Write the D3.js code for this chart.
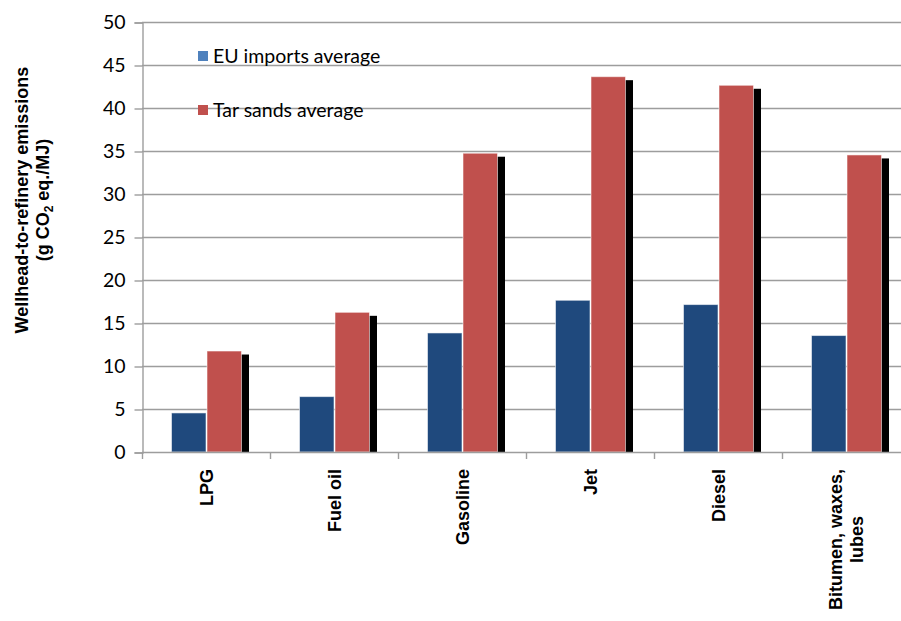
<!DOCTYPE html>
<html>
<head>
<meta charset="utf-8">
<script src="https://cdn.jsdelivr.net/npm/d3@7/dist/d3.min.js"></script>
<style>
  html, body { margin: 0; padding: 0; background: #ffffff; }
  svg { display: block; }
</style>
</head>
<body>
<svg id="chart" width="901" height="621"></svg>
<script>
// Wellhead-to-refinery emissions by refined product
const categories = ["LPG", "Fuel oil", "Gasoline", "Jet", "Diesel", "Bitumen, waxes,\nlubes"];
const euImports = [4.6, 6.5, 13.9, 17.7, 17.2, 13.6];
const tarSands = [11.8, 16.3, 34.8, 43.7, 42.7, 34.6];
const seriesNames = ["EU imports average", "Tar sands average"];
const yTicks = [0, 5, 10, 15, 20, 25, 30, 35, 40, 45, 50];

const barColors = ["#1F497D", "#C0504D"];
const legendColors = ["#4F81BD", "#C0504D"];
const gridColor = "#9d9d9d";
const labelFont = "Lato, 'Open Sans', sans-serif";
const boldFont = "'Liberation Sans', Arial, sans-serif";

const svg = d3.select("#chart");
const plotLeft = 142, plotTop = 22, plotBottom = 452;
const bandW = 128;

const x = d3.scaleBand()
  .domain(categories)
  .range([plotLeft, plotLeft + bandW * categories.length])
  .paddingInner(0).paddingOuter(0);

const y = d3.scaleLinear().domain([0, 50]).range([plotBottom, plotTop]);

const inner = d3.scaleBand()
  .domain([0, 1])
  .range([29, 29 + 71]);

// Drop-shadow blur
const defs = svg.append("defs");
defs.append("filter").attr("id", "soft")
  .attr("x", "-50%").attr("y", "-5%").attr("width", "200%").attr("height", "110%")
  .append("feGaussianBlur").attr("stdDeviation", 0.7);
defs.append("clipPath").attr("id", "plotClip")
  .append("rect").attr("x", plotLeft).attr("y", 0).attr("width", 901 - plotLeft).attr("height", plotBottom);

// Horizontal gridlines
svg.append("g").selectAll("line")
  .data(yTicks.filter(d => d > 0))
  .join("line")
  .attr("x1", plotLeft).attr("x2", 901)
  .attr("y1", d => Math.round(y(d)) + 0.5).attr("y2", d => Math.round(y(d)) + 0.5)
  .attr("stroke", gridColor).attr("stroke-width", 1.4);

// Y axis
const yAxis = d3.axisLeft(y).tickValues(yTicks).tickSize(8).tickPadding(9).tickFormat(d3.format("d"));
const yg = svg.append("g").attr("transform", `translate(${plotLeft + 0.5},0.5)`).call(yAxis);
yg.select(".domain").attr("stroke", gridColor).attr("stroke-width", 1.4);
yg.selectAll(".tick line").attr("stroke", gridColor).attr("stroke-width", 1.4);
yg.selectAll(".tick text").attr("font-family", labelFont).attr("font-size", 19.5).attr("fill", "#000");

// X axis: ticks at category boundaries
const boundaries = d3.range(categories.length + 1).map(i => plotLeft + i * x.bandwidth());
svg.append("g").selectAll("line")
  .data(boundaries)
  .join("line")
  .attr("x1", d => Math.round(d) + 0.5).attr("x2", d => Math.round(d) + 0.5)
  .attr("y1", plotBottom).attr("y2", plotBottom + 7)
  .attr("stroke", gridColor).attr("stroke-width", 1.4);

// Bars
const groups = svg.append("g").attr("clip-path", "url(#plotClip)")
  .selectAll("g.cat")
  .data(categories.map((c, i) => ({ c, vals: [euImports[i], tarSands[i]] })))
  .join("g").attr("class", "cat")
  .attr("transform", d => `translate(${x(d.c)},0)`);

// shadow behind the taller bar
groups.append("rect")
  .attr("x", inner(1) + 7)
  .attr("y", d => y(d.vals[1]) + 4)
  .attr("width", inner.bandwidth())
  .attr("height", d => plotBottom - y(d.vals[1]) - 4)
  .attr("fill", "#000")
  .attr("filter", "url(#soft)");

groups.selectAll("rect.bar")
  .data(d => d.vals.map((v, k) => ({ v, k })))
  .join("rect").attr("class", "bar")
  .attr("x", d => inner(d.k) + 0.5)
  .attr("y", d => y(d.v) + 0.5)
  .attr("width", inner.bandwidth() - 1)
  .attr("height", d => plotBottom - y(d.v) - 0.5)
  .attr("fill", d => barColors[d.k])
  .attr("stroke", "rgba(255,255,255,0.55)")
  .attr("stroke-width", 1);

// X axis line drawn over bar bottoms
svg.append("line")
  .attr("x1", plotLeft).attr("x2", 901)
  .attr("y1", plotBottom + 0.5).attr("y2", plotBottom + 0.5)
  .attr("stroke", gridColor).attr("stroke-width", 1.6);

// Category labels, rotated
const labelEnd = 469;
categories.forEach(c => {
  const lines = c.split("\n");
  const cx = x(c) + x.bandwidth() / 2;
  const lineGap = 21;
  const g = svg.append("g").attr("transform", `translate(${cx},${labelEnd}) rotate(-90)`);
  const t = g.append("text")
    .attr("font-family", boldFont).attr("font-weight", "bold").attr("font-size", 18)
    .attr("fill", "#000");
  const spans = lines.map((ln, i) => t.append("tspan").text(ln)
    .attr("y", (i - (lines.length - 1) / 2) * lineGap + 6.5));
  const widths = spans.map(s => s.node().getComputedTextLength());
  const maxW = d3.max(widths);
  spans.forEach(s => s.attr("x", -maxW / 2).attr("text-anchor", "middle"));
});

// Y axis title
const yt = svg.append("g").attr("transform", "translate(32,200) rotate(-90)");
yt.append("text")
  .attr("text-anchor", "middle").attr("y", -4)
  .attr("font-family", boldFont).attr("font-weight", "bold").attr("font-size", 18)
  .text("Wellhead-to-refinery emissions");
const t2 = yt.append("text")
  .attr("text-anchor", "middle").attr("y", 17)
  .attr("font-family", boldFont).attr("font-weight", "bold").attr("font-size", 18);
t2.append("tspan").text("(g CO");
t2.append("tspan").attr("font-size", 12).attr("dy", 4).text("2");
t2.append("tspan").attr("dy", -4).text(" eq./MJ)");

// Legend
const legend = svg.append("g");
const legendY = [51, 105];
seriesNames.forEach((name, i) => {
  legend.append("rect")
    .attr("x", 198).attr("y", legendY[i])
    .attr("width", 10).attr("height", 10)
    .attr("fill", legendColors[i]);
  legend.append("text")
    .attr("x", 213).attr("y", legendY[i] + 12)
    .attr("font-family", labelFont).attr("font-size", 19.5)
    .attr("fill", "#000")
    .text(name);
});
</script>
</body>
</html>
